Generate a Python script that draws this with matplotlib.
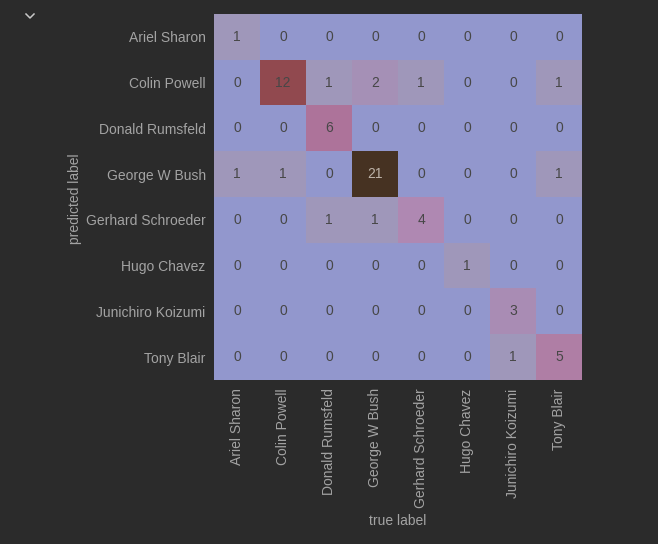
import numpy as np
import matplotlib
matplotlib.use("Agg")
import matplotlib.pyplot as plt
from matplotlib.colors import LinearSegmentedColormap
from matplotlib.lines import Line2D

names = ["Ariel Sharon", "Colin Powell", "Donald Rumsfeld", "George W Bush",
         "Gerhard Schroeder", "Hugo Chavez", "Junichiro Koizumi", "Tony Blair"]

# rows = predicted label, columns = true label
mat = np.array([
    [1, 0, 0, 0, 0, 0, 0, 0],
    [0, 12, 1, 2, 1, 0, 0, 1],
    [0, 0, 6, 0, 0, 0, 0, 0],
    [1, 1, 0, 21, 0, 0, 0, 1],
    [0, 0, 1, 1, 4, 0, 0, 0],
    [0, 0, 0, 0, 0, 1, 0, 0],
    [0, 0, 0, 0, 0, 0, 3, 0],
    [0, 0, 0, 0, 0, 0, 1, 5],
])

plt.rcParams['font.family'] = ['Liberation Sans', 'DejaVu Sans']
bg = '#2b2b2b'
txt = '#a3a3a3'

vmax = 21
cmap = LinearSegmentedColormap.from_list("faces", [
    (0 / vmax, '#9297cd'),
    (1 / vmax, '#a097ba'),
    (2 / vmax, '#a690b6'),
    (3 / vmax, '#aa8cb4'),
    (4 / vmax, '#b088b2'),
    (5 / vmax, '#af7ea5'),
    (6 / vmax, '#ae749b'),
    (12 / vmax, '#924a50'),
    (21 / vmax, '#463222'),
])

fig = plt.figure(figsize=(6.58, 5.44), dpi=100, facecolor=bg)
ax = fig.add_axes([214 / 658, 1 - 380 / 544, 368 / 658, 366 / 544])
ax.set_facecolor(bg)

n = len(names)
ax.imshow(mat, cmap=cmap, vmin=0, vmax=vmax, aspect='auto',
          interpolation='nearest', extent=(0, n, n, 0))

for i in range(n):
    for j in range(n):
        v = mat[i, j]
        c = '#bdb3a8' if v > 15 else '#474747'
        ax.text(j + 0.5, i + 0.5, str(v), ha='center', va='center',
                fontsize=10, color=c)

ax.set_xticks(np.arange(n) + 0.5)
ax.set_yticks(np.arange(n) + 0.5)
ax.set_xticklabels(names, rotation=90)
ax.set_yticklabels(names)
ax.tick_params(length=0, pad=6, labelsize=10, colors=txt)
for s in ax.spines.values():
    s.set_visible(False)

ax.set_xlabel('true label', color=txt, fontsize=10)
ax.set_ylabel('predicted label', color=txt, fontsize=10)
ax.xaxis.set_label_coords(0.5, -0.366)
ax.yaxis.set_label_coords(-0.358, 0.495)

# little collapse chevron of the notebook cell
fig.add_artist(Line2D([26 / 658, 30 / 658, 34 / 658],
                      [1 - 14 / 544, 1 - 18 / 544, 1 - 14 / 544],
                      color='#c8c8c8', lw=1.1))

fig.savefig('out.png', dpi=100, facecolor=bg)
